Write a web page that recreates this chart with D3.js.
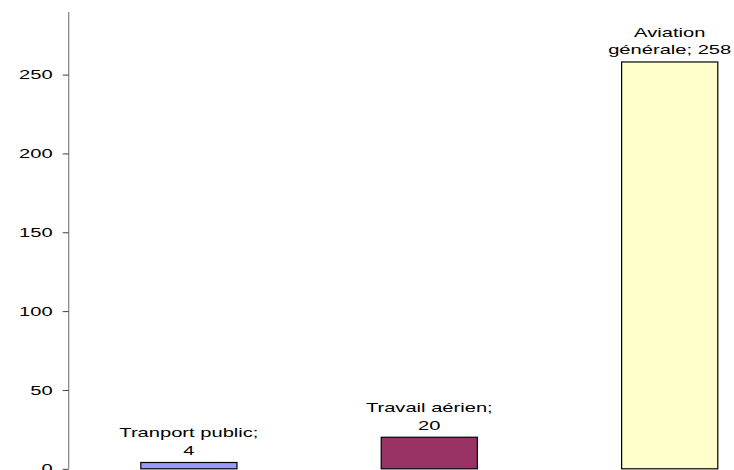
<!DOCTYPE html>
<html><head><meta charset="utf-8">
<script src="https://cdn.jsdelivr.net/npm/d3@7"></script>
<style>body{margin:0;background:#fff}svg{display:block}</style>
</head><body>
<svg id="c" width="734" height="470"></svg>
<script>
const categories = ["Tranport public", "Travail aérien", "Aviation générale"];
const labelLines = [["Tranport public;", "4"], ["Travail aérien;", "20"], ["Aviation", "générale; 258"]];
const values = [4, 20, 258];
const colors = ["#9999FF", "#993366", "#FFFFCC"];
const yTicks = [0, 50, 100, 150, 200, 250];

const FONT = "Liberation Sans, Arial, sans-serif";
const SX = 1.55;
const svg = d3.select("#c");
const x0 = 68.7, step = 240.4;
const x = d3.scaleBand().domain(categories).range([x0, x0 + 3 * step]).paddingInner(0.6).paddingOuter(0.3);
const y = d3.scaleLinear().domain([0, 289.7]).range([468.8, 12]);

const ax = svg.append("g").attr("transform", `translate(${x0},0)`)
  .call(d3.axisLeft(y).tickValues(yTicks).tickSize(6).tickPadding(10));
ax.select(".domain").attr("stroke", "#808080").attr("stroke-width", 1.2).attr("d", `M0,${y(289.7)}V${y(0)}`);
ax.selectAll(".tick line").attr("stroke", "#404040");
ax.selectAll(".tick text")
  .attr("font-family", FONT).attr("font-size", 13).attr("fill", "#000")
  .attr("x", -16 / SX).attr("transform", `scale(${SX},1)`);

svg.append("g").selectAll("rect").data(values).join("rect")
  .attr("x", (d, i) => x(categories[i]))
  .attr("width", x.bandwidth())
  .attr("y", d => y(d))
  .attr("height", d => y(0) - y(d))
  .attr("fill", (d, i) => colors[i])
  .attr("stroke", "#000").attr("stroke-width", 1.2);

const lg = svg.append("g").attr("font-family", FONT).attr("font-size", 13).attr("fill", "#000").attr("text-anchor", "middle");
values.forEach((v, i) => {
  const cx = x(categories[i]) + x.bandwidth() / 2;
  const lines = labelLines[i];
  const base = y(v) - 7.5;
  lines.forEach((t, j) => {
    lg.append("text")
      .attr("transform", `translate(${cx},${base - (lines.length - 1 - j) * 17.5}) scale(${SX},1)`)
      .text(t);
  });
});
</script>
</body></html>
